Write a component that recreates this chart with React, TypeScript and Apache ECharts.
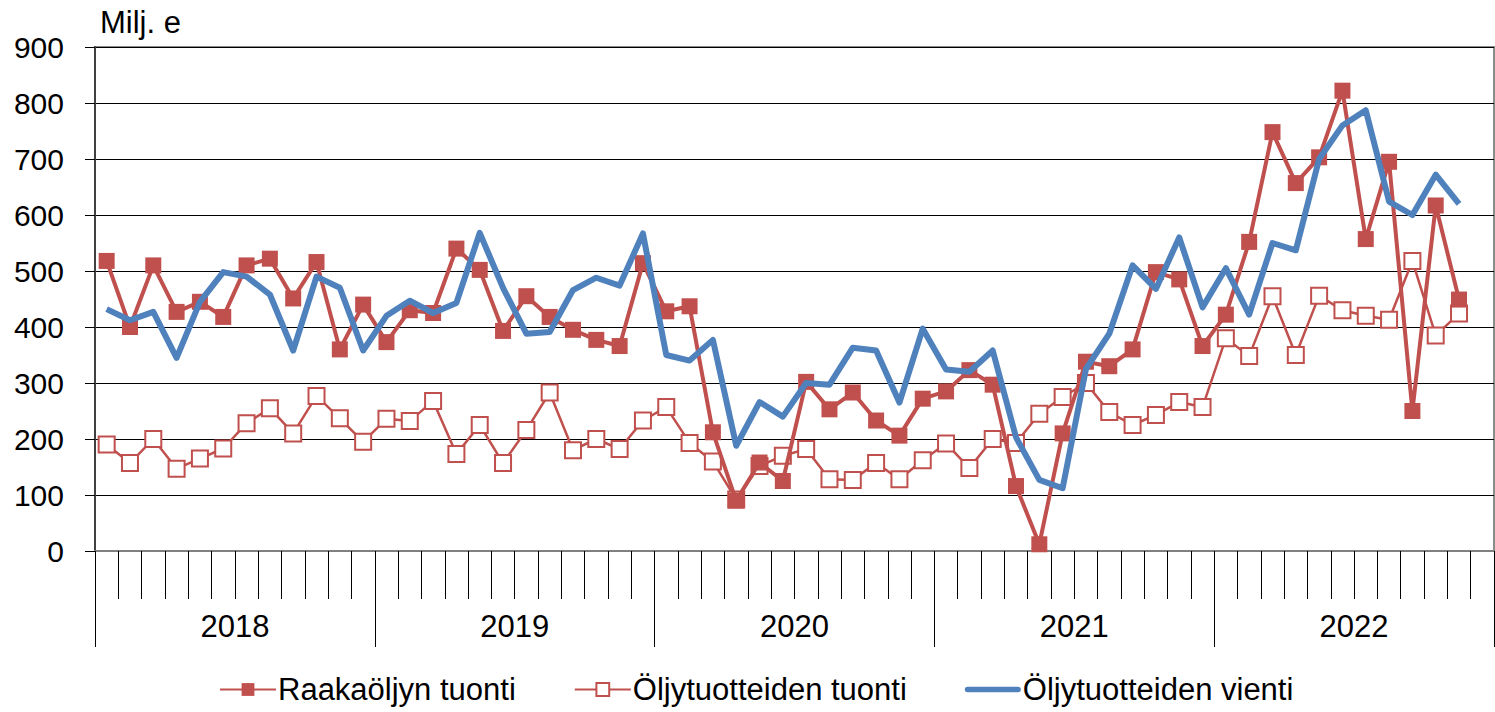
import React, { useEffect, useRef } from "react";
import * as echarts from "echarts";

const years = ["2018", "2019", "2020", "2021", "2022"];
const months = ["01", "02", "03", "04", "05", "06", "07", "08", "09", "10", "11", "12"];
const categories = years.flatMap((y) => months.map((m) => `${y}-${m}`));

const yTicks = { min: 0, max: 900, interval: 100 };

const raakaoljynTuonti = [
  518, 400, 510, 427, 445, 418, 510, 522, 451, 516, 360, 440,
  373, 430, 425, 540, 502, 393, 455, 418, 395, 377, 366, 514,
  428, 437, 212, 90, 158, 125, 302, 253, 283, 233, 206, 272,
  285, 323, 297, 116, 12, 210, 338, 330, 360, 498, 485, 366,
  422, 552, 748, 657, 703, 822, 557, 695, 250, 617, 449,
];

const oljytuotteidenTuonti = [
  190, 157, 200, 147, 165, 183, 228, 255, 210, 277, 237, 195,
  236, 232, 268, 173, 225, 157, 216, 283, 180, 200, 182, 233,
  257, 193, 160, 92, 152, 170, 182, 128, 127, 157, 128, 162,
  192, 148, 200, 193, 245, 275, 300, 248, 225, 243, 266, 257,
  380, 348, 455, 350, 456, 430, 420, 413, 518, 385, 424,
];

const oljytuotteidenVienti = [
  432, 412, 427, 345, 445, 498, 490, 458, 358, 490, 470, 358,
  420, 447, 425, 443, 568, 470, 388, 391, 466, 488, 474, 567,
  350, 340, 377, 188, 266, 240, 300, 297, 363, 358, 265, 397,
  324, 320, 358, 203, 127, 112, 325, 388, 510, 468, 560, 435,
  505, 422, 550, 537, 700, 760, 787, 624, 600, 672, 620,
];

const RED = "#C0504D";
const BLUE = "#4F81BD";
const FONT = "Liberation Sans, Arial, sans-serif";

export default function App() {
  const ref = useRef<HTMLDivElement>(null);

  useEffect(() => {
    if (!ref.current) return;
    const chart = echarts.init(ref.current, undefined, { renderer: "svg" });
    chart.setOption({
      animation: false,
      backgroundColor: "#ffffff",
      textStyle: { fontFamily: FONT },
      title: {
        text: "Milj. e",
        left: 95,
        top: 2,
        textStyle: { fontSize: 31, fontWeight: "normal", color: "#000", fontFamily: FONT },
      },
      grid: {
        left: 95,
        top: 47,
        right: 1,
        bottom: 161,
        show: true,
        borderColor: "#8c8c8c",
        borderWidth: 2,
        backgroundColor: "transparent",
      },
      legend: {
        bottom: 2,
        left: 214,
        data: [
          { name: "Raakaöljyn tuonti" },
          { name: "Öljytuotteiden tuonti" },
          {
            name: "Öljytuotteiden vienti",
            icon: "path://M3 0 H57 A3 3 0 0 1 57 6 H3 A3 3 0 0 1 3 0 Z",
            itemStyle: { color: BLUE },
          },
        ],
        itemWidth: 56,
        itemHeight: 16,
        itemGap: 58,
        textStyle: { fontSize: 31, color: "#000", fontFamily: FONT, padding: [0, 0, 0, -3] },
      },
      xAxis: [
        {
          type: "category",
          data: categories,
          boundaryGap: true,
          position: "bottom",
          axisLine: { show: true, lineStyle: { color: "#808080", width: 2 } },
          axisTick: { show: true, interval: 0, length: 48, lineStyle: { color: "#000", width: 1 } },
          axisLabel: { show: false },
          splitLine: { show: false },
        },
        {
          type: "category",
          data: years,
          boundaryGap: true,
          position: "bottom",
          axisLine: { show: false },
          axisTick: { show: true, interval: 0, length: 96, lineStyle: { color: "#000", width: 1 } },
          axisLabel: { show: true, margin: 60, fontSize: 31, color: "#000", fontFamily: FONT },
          splitLine: { show: false },
        },
      ],
      yAxis: {
        type: "value",
        min: yTicks.min,
        max: yTicks.max,
        interval: yTicks.interval,
        axisLine: { show: true, lineStyle: { color: "#404040", width: 2 } },
        axisTick: { show: true, length: 10, lineStyle: { color: "#000", width: 1 } },
        axisLabel: { margin: 31, fontSize: 30, color: "#000", fontFamily: FONT },
        splitLine: { show: true, lineStyle: { color: "#000", width: 1 } },
      },
      series: [
        {
          name: "Öljytuotteiden tuonti",
          type: "line",
          data: oljytuotteidenTuonti,
          symbol: "rect",
          symbolSize: 16,
          showAllSymbol: true,
          lineStyle: { color: RED, width: 2.5 },
          itemStyle: { color: "#ffffff", borderColor: RED, borderWidth: 2 },
          z: 2,
        },
        {
          name: "Raakaöljyn tuonti",
          type: "line",
          data: raakaoljynTuonti,
          symbol: "rect",
          symbolSize: 16,
          showAllSymbol: true,
          lineStyle: { color: RED, width: 4 },
          itemStyle: { color: RED },
          z: 3,
        },
        {
          name: "Öljytuotteiden vienti",
          type: "line",
          data: oljytuotteidenVienti,
          symbol: "none",
          lineStyle: { color: BLUE, width: 6, join: "round" },
          itemStyle: { color: BLUE },
          z: 4,
        },
      ],
    });
    return () => chart.dispose();
  }, []);

  return (
    <div
      ref={ref}
      style={{ position: "fixed", left: 0, top: 0, width: 1495, height: 712, background: "#fff" }}
    />
  );
}
